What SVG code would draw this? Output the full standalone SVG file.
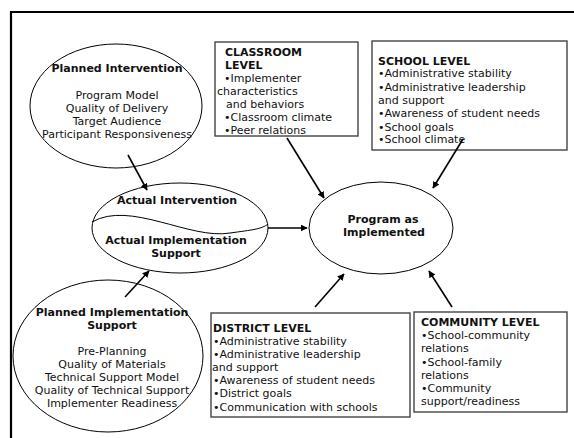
<svg xmlns="http://www.w3.org/2000/svg" width="574" height="438" viewBox="0 0 574 438">
  <defs>
    <marker id="arrow" viewBox="0 0 10 10" refX="9" refY="5" markerWidth="7" markerHeight="7" markerUnits="userSpaceOnUse" orient="auto">
      <path d="M0,0 L10,5 L0,10 z" fill="#000"/>
    </marker>
    <style>
      text { font-family: "DejaVu Sans", Verdana, sans-serif; font-size: 11px; fill: #111; }
      .b { font-weight: bold; }
      .c { text-anchor: middle; }
      .shape { fill: #fff; stroke: #000; stroke-width: 1; }
      .box { fill: #fff; stroke: #444; stroke-width: 1.4; }
      .conn { stroke: #000; stroke-width: 1.6; fill: none; marker-end: url(#arrow); }
    </style>
  </defs>

  <rect width="574" height="438" fill="#fff"/>

  <!-- outer frame (top and left edges) -->
  <path d="M11,438 V12 H574" fill="none" stroke="#000" stroke-width="2.2"/>

  <g id="planned-intervention">
    <ellipse class="shape" cx="116" cy="106" rx="86" ry="62"/>
    <text class="b c" x="117" y="72">Planned Intervention</text>
    <text class="c" x="117" y="99">Program Model</text>
    <text class="c" x="117" y="112">Quality of Delivery</text>
    <text class="c" x="117" y="125">Target Audience</text>
    <text class="c" x="117" y="138">Participant Responsiveness</text>
  </g>

  <g id="actual">
    <ellipse class="shape" cx="180" cy="228" rx="88" ry="45"/>
    <path d="M92,222 C130,200 190,240 230,233 C252,230 262,229 268,224" fill="none" stroke="#000" stroke-width="1"/>
    <text class="b c" x="177" y="204">Actual Intervention</text>
    <text class="b c" x="176" y="244">Actual Implementation</text>
    <text class="b c" x="176" y="257">Support</text>
  </g>

  <g id="planned-support">
    <ellipse class="shape" cx="108" cy="356" rx="95" ry="76"/>
    <text class="b c" x="112" y="316">Planned Implementation</text>
    <text class="b c" x="112" y="329">Support</text>
    <text class="c" x="112" y="355">Pre-Planning</text>
    <text class="c" x="112" y="368">Quality of Materials</text>
    <text class="c" x="112" y="381">Technical Support Model</text>
    <text class="c" x="112" y="394">Quality of Technical Support</text>
    <text class="c" x="112" y="407">Implementer Readiness</text>
  </g>

  <g id="program">
    <ellipse class="shape" cx="381" cy="228" rx="72" ry="46"/>
    <text class="b c" x="383" y="223">Program as</text>
    <text class="b c" x="384" y="236">Implemented</text>
  </g>

  <g id="classroom">
    <rect class="box" x="215" y="42" width="143" height="94"/>
    <text class="b" x="225" y="56">CLASSROOM</text>
    <text class="b" x="225" y="69">LEVEL</text>
    <text x="224" y="82">•Implementer</text>
    <text x="217" y="95">characteristics</text>
    <text x="226" y="108">and behaviors</text>
    <text x="224" y="121">•Classroom climate</text>
    <text x="224" y="134">•Peer relations</text>
  </g>

  <g id="school">
    <rect class="box" x="372" y="41" width="195" height="109"/>
    <text class="b" x="378" y="65">SCHOOL LEVEL</text>
    <text x="378" y="77">•Administrative stability</text>
    <text x="378" y="91">•Administrative leadership</text>
    <text x="378" y="104">and support</text>
    <text x="378" y="117">•Awareness of student needs</text>
    <text x="378" y="131">•School goals</text>
    <text x="378" y="143">•School climate</text>
  </g>

  <g id="district">
    <rect class="box" x="211" y="313" width="199" height="104"/>
    <text class="b" x="213" y="332">DISTRICT LEVEL</text>
    <text x="213" y="345">•Administrative stability</text>
    <text x="213" y="358">•Administrative leadership</text>
    <text x="212" y="371">and support</text>
    <text x="213" y="384">•Awareness of student needs</text>
    <text x="213" y="397">•District goals</text>
    <text x="213" y="411">•Communication with schools</text>
  </g>

  <g id="community">
    <rect class="box" x="414" y="312" width="153" height="100"/>
    <text class="b" x="421" y="326">COMMUNITY LEVEL</text>
    <text x="421" y="339">•School-community</text>
    <text x="421" y="352">relations</text>
    <text x="421" y="366">•School-family</text>
    <text x="421" y="379">relations</text>
    <text x="421" y="392">•Community</text>
    <text x="421" y="405">support/readiness</text>
  </g>

  <g id="connectors">
    <line class="conn" x1="128" y1="155" x2="147" y2="190"/>
    <line class="conn" x1="125" y1="297" x2="149" y2="271"/>
    <line class="conn" x1="268" y1="228" x2="307" y2="228"/>
    <line class="conn" x1="287" y1="138" x2="324" y2="198"/>
    <line class="conn" x1="463" y1="139" x2="433" y2="188"/>
    <line class="conn" x1="315" y1="307" x2="344" y2="274"/>
    <line class="conn" x1="452" y1="307" x2="429" y2="271"/>
  </g>
</svg>
